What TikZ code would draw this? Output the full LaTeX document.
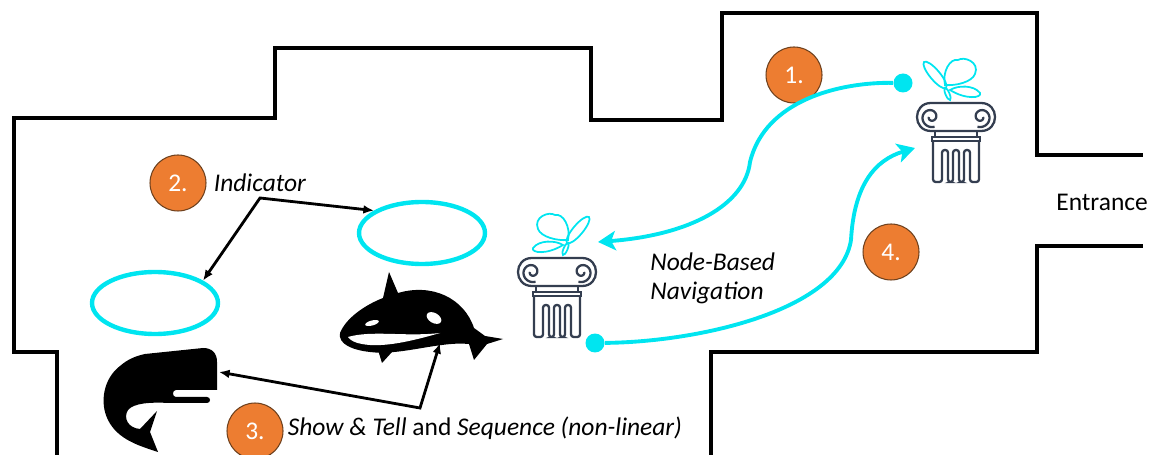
\documentclass[tikz,border=0pt]{standalone}
\usepackage{fontspec}
\setmainfont{Carlito}
\usepackage{tikz}
\usetikzlibrary{arrows.meta, positioning, shapes.geometric}
\definecolor{navCyan}{RGB}{0,229,240}
\definecolor{badgeOrange}{RGB}{237,125,49}
\definecolor{badgeEdge}{RGB}{110,65,30}
\definecolor{columnSlate}{RGB}{52,62,80}

\tikzset{
  colline/.style={draw=columnSlate, line width=1.3pt},
  wing/.style={draw=navCyan, line width=1pt},
  column/.pic={
    \draw[colline] (-25,29) .. controls (-43.7,29) and (-43.7,1) .. (-25,1) -- (25,1)
      .. controls (43.7,1) and (43.7,29) .. (25,29) -- cycle;
    \foreach \s in {-1,1} {
      \draw[colline] plot[domain=0:470, samples=48, smooth] ({\s*(25+(2+\x/56)*cos(\x))},{15+(2+\x/56)*sin(\x)});
      \draw[colline] (\s*21,29) -- (\s*21,35);
    }
    \draw[colline] (-24,35) rectangle (24,39);
    \draw[colline, rounded corners=1.5pt] (-23,39) -- (-23,80) -- (-14,80) -- (-14,48) -- (-8,48) -- (-8,80)
      -- (-3,80) -- (-3,48) -- (3,48) -- (3,80) -- (8,80) -- (8,48) -- (14,48) -- (14,80) -- (23,80) -- (23,39);
    \draw[wing, rotate around={-50:(-21,-27)}] (-21,-27) ellipse[x radius=17, y radius=5];
    \draw[wing] (-11,-17) .. controls (-14,-30) and (-6,-44) .. (2,-42)
      .. controls (8,-46) and (24,-40) .. (19,-28) .. controls (16,-20) and (0,-16) .. cycle;
    \draw[wing] (-6,-12) .. controls (2,-17) and (18,-17) .. (24,-9) .. controls (26,-4) and (10,-2) .. cycle;
    \draw[wing, rotate around={-67:(-8.5,-8)}] (-8.5,-8) ellipse[x radius=6.5, y radius=2];
  }
}

\begin{document}
\begin{tikzpicture}[x=0.02cm, y=-0.02cm,
  wall/.style={line width=2.2pt, line join=miter},
  nav/.style={draw=navCyan, line width=2.2pt, -{Stealth[length=10pt, width=11pt, inset=2.5pt]}},
  dot/.style={circle, fill=navCyan, minimum size=0.38cm, inner sep=0pt},
  ring/.style={ellipse, draw=navCyan, line width=2.5pt, minimum width=2.52cm, minimum height=1.24cm},
  badge/.style={circle, fill=badgeOrange, draw=badgeEdge, line width=0.6pt, minimum size=1.12cm,
                inner sep=0pt, text=white, font=\fontsize{14.5}{17}\selectfont},
  ptr/.style={line width=1.6pt, {Latex[length=6pt, width=5pt]}-{Latex[length=6pt, width=5pt]}},
  lab/.style={font=\fontsize{14.5}{17}\selectfont, inner sep=0pt},
]
  \useasboundingbox (0,0) rectangle (1152,455);

  \draw[wall] (57,455) -- (57,352) -- (14,352) -- (14,118) -- (275,118) -- (275,48) -- (591,48)
    -- (591,120) -- (722,120) -- (722,13) -- (1037,13) -- (1037,155) -- (1143,155);
  \draw[wall] (711,455) -- (711,352) -- (1037,352) -- (1037,246) -- (1143,246);

  \pic at (956,102) {column};
  \pic[xscale=-1] at (557,257) {column};

  \node[ring] (ringA) at (422,233) {};
  \node[ring] (ringB) at (155,303) {};

  \fill (145,354) -- (203,348) .. controls (212,348) and (217,353) .. (217,362) -- (217,390) -- (176,390)
    .. controls (172,390) and (172,397) .. (176,397) -- (207,397) .. controls (211,397) and (211,403) .. (207,403)
    -- (170,403) .. controls (150,402) and (134,403) .. (128,410) .. controls (123,418) and (128,428) .. (140,429)
    -- (157,411) -- (150,432) -- (158,452) .. controls (140,446) and (118,440) .. (108,420)
    .. controls (99,402) and (104,378) .. (120,366) .. controls (128,359) and (136,356) .. (145,354) -- cycle;

  \fill (340,333) .. controls (346,318) and (365,305) .. (383,298) -- (389,272) -- (398,293)
    .. controls (432,283) and (464,298) .. (474,328) -- (485,336) -- (503,339) -- (487,344) -- (474,360)
    -- (469,344) .. controls (440,341) and (400,356) .. (370,352) .. controls (352,350) and (338,344) .. (340,333) -- cycle;
  \fill (378,350) -- (382,363) -- (392,352) -- cycle;
  \fill[white] (348,337) .. controls (372,330) and (405,337) .. (440,333) .. controls (412,341) and (383,348) .. (362,344)
    .. controls (355,343) and (350,340) .. (348,337) -- cycle;
  \fill[white, rotate around={15:(372,323)}] (372,323) ellipse[x radius=7, y radius=2.5];
  \fill[white, rotate around={-30:(434,318)}] (434,318) ellipse[x radius=8, y radius=5];

  \node[badge] (numOne) at (794,75) {1.};
  \node[badge] (numTwo) at (178,183) {2.};
  \node[badge] (numThree) at (255,431) {3.};
  \node[badge] (numFour) at (891,252) {4.};

  \node[lab, right=0.14cm of numTwo] (indicator) {\textit{Indicator}};
  \node[lab, right=0.08cm of numThree, yshift=0.06cm] (sequence) {\textit{Show \& Tell} and \textit{Sequence (non-linear)}};
  \node[lab, anchor=west] (entrance) at (1056,202) {Entrance};
  \node[lab, align=left, anchor=north west, font=\fontsize{14.5}{17}\selectfont\itshape] (navText) at (650,252) {Node-Based\\Navigation};

  \node[dot] (startA) at (903,83) {};
  \node[dot] (startB) at (595,343) {};
  \coordinate (endA) at (598,242);
  \coordinate (endB) at (915,148);
  \draw[nav] (startA) .. controls (840,82) and (765,100) .. (750,162) .. controls (745,205) and (690,235) .. (endA);
  \draw[nav] (startB) .. controls (700,342) and (840,310) .. (851,240) .. controls (854,185) and (875,160) .. (endB);

  \coordinate (indJoin) at (260,198);
  \coordinate (seqJoin) at (420,408);
  \coordinate (whaleHead) at (219,372);
  \coordinate (orcaBelly) at (440,343);
  \draw[ptr] (ringB.25) -- (indJoin) -- (ringA.155);
  \draw[ptr] (whaleHead) -- (seqJoin) -- (orcaBelly);
\end{tikzpicture}
\end{document}
